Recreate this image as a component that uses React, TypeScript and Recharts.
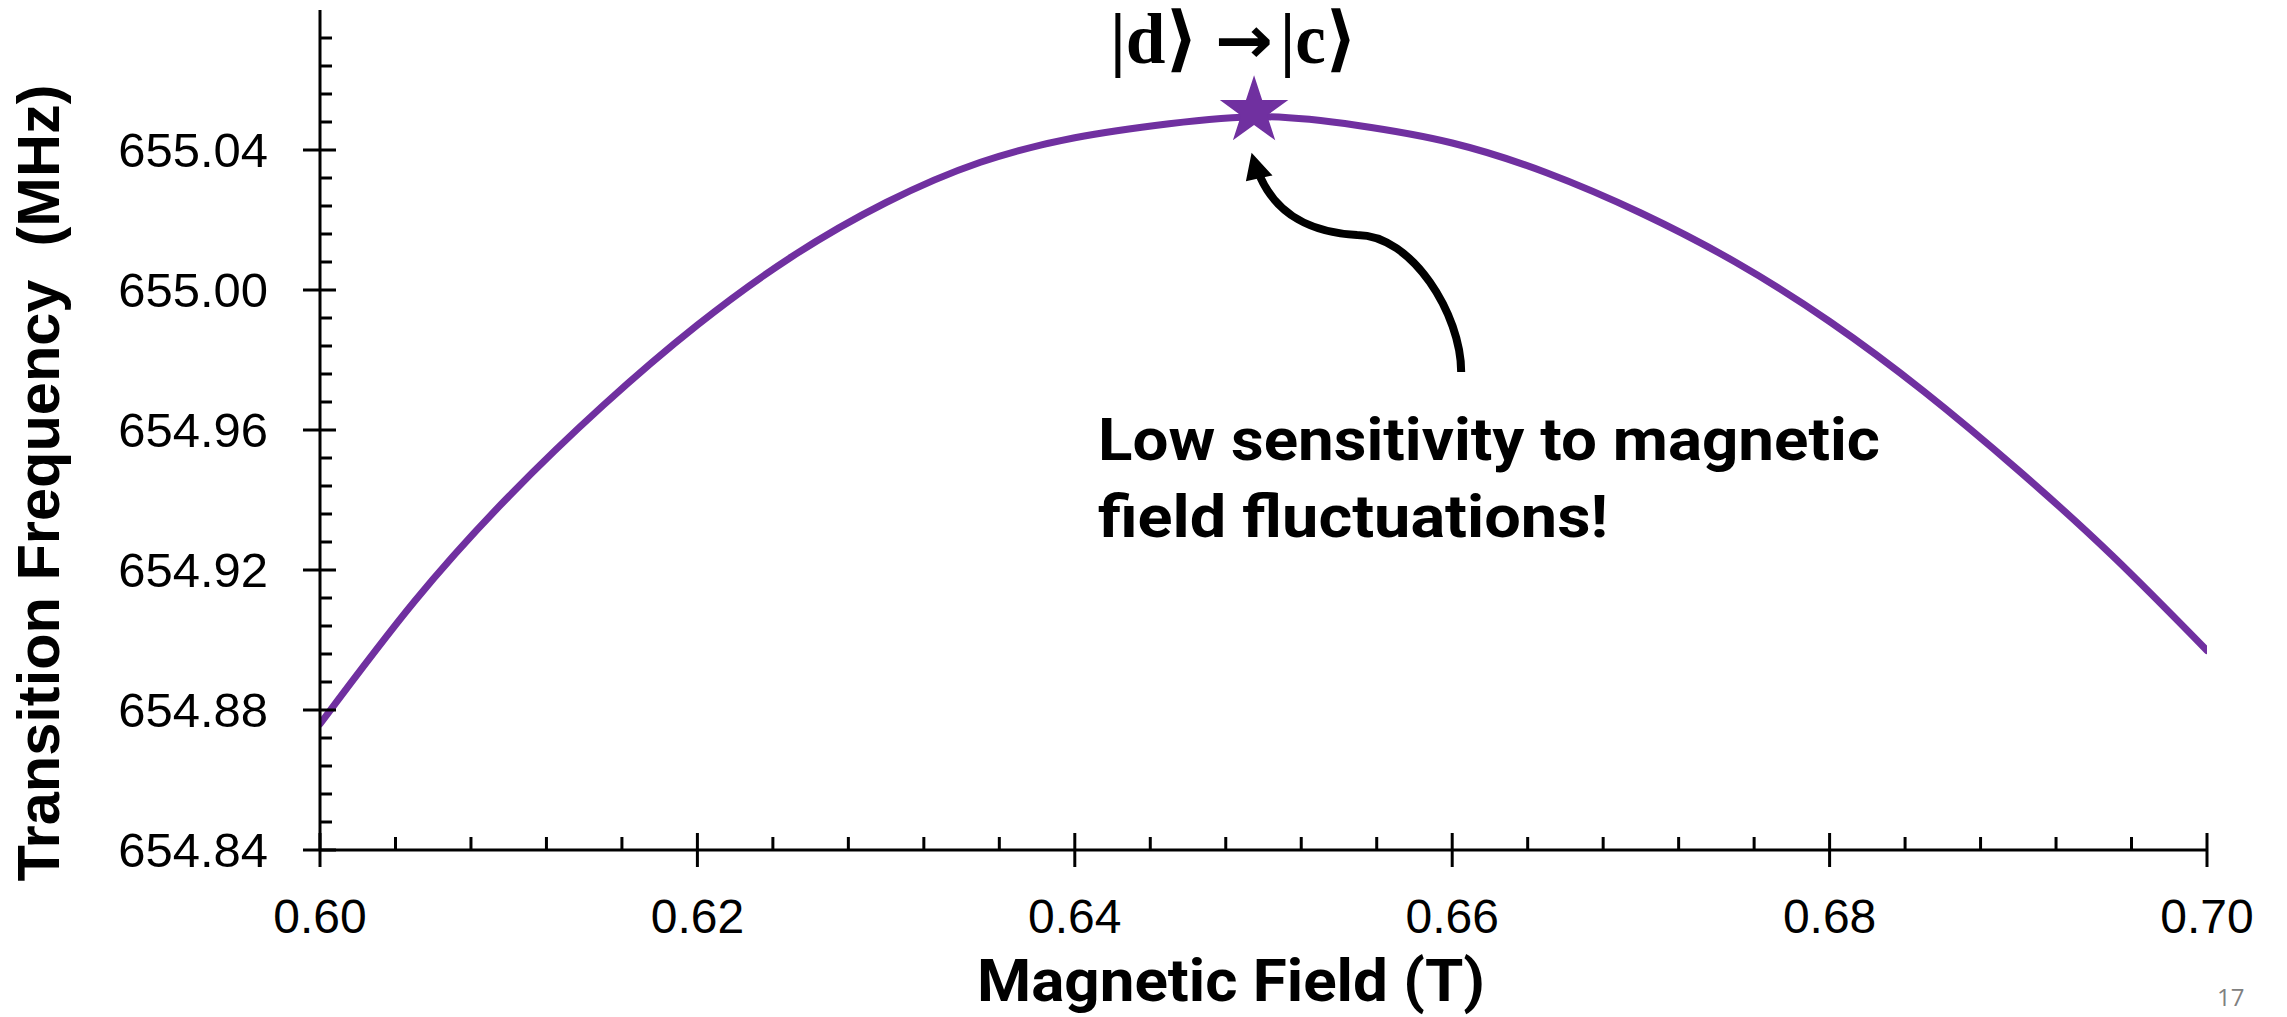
import { ComposedChart, Line, ReferenceDot, Scatter, XAxis, YAxis } from "recharts";

// Magnetic field (T) vs |d> -> |c> transition frequency (MHz)
const fieldT = [
  0.6, 0.605, 0.61, 0.615, 0.62, 0.625, 0.63, 0.635, 0.64, 0.645, 0.65,
  0.655, 0.66, 0.665, 0.67, 0.675, 0.68, 0.685, 0.69, 0.695, 0.7,
];
const freqMHz = [
  654.876, 654.911, 654.941, 654.967, 654.99, 655.0095, 655.025, 655.0365, 655.0435,
  655.0475, 655.0495, 655.047, 655.042, 655.0335, 655.022, 655.008, 654.991, 654.971,
  654.9485, 654.924, 654.897,
];
const sweetSpot = [{ b: 0.6495, f: 655.0511 }];
const arrowTip = { b: 0.6494, f: 655.0386 };

const xMajorTicks = [0.6, 0.62, 0.64, 0.66, 0.68, 0.7];
const yMajorTicks = [654.84, 654.88, 654.92, 654.96, 655.0, 655.04];
const xAllTicks = Array.from({ length: 26 }, (_, i) => +(0.6 + i * 0.004).toFixed(3));
const yAllTicks = Array.from({ length: 30 }, (_, i) => +(654.84 + i * 0.008).toFixed(3));

const data = fieldT.map((b, i) => ({ b, f: freqMHz[i] }));

const PURPLE = "#7030A0";
const SANS = "'Liberation Sans', Arial, sans-serif";
const NARROW = "Roboto, 'Liberation Sans', sans-serif";
const SERIF = "'Liberation Serif', 'DejaVu Serif', serif";

const isMajor = (list: number[], v: number) => list.some((t) => Math.abs(t - v) < 1e-6);

function YTick(props: any) {
  const { x, y, payload } = props;
  const major = isMajor(yMajorTicks, payload.value);
  return (
    <g>
      <line x1={major ? x - 17 : x} x2={x + (major ? 16 : 12)} y1={y} y2={y} stroke="#000" strokeWidth={3} />
      {major ? (
        <text x={x - 52} y={y} dy={17} textAnchor="end" fontFamily={SANS} fontSize={49} fill="#000">
          {payload.value.toFixed(2)}
        </text>
      ) : null}
    </g>
  );
}

function XTick(props: any) {
  const { x, y, payload } = props;
  const major = isMajor(xMajorTicks, payload.value);
  return (
    <g>
      <line x1={x} x2={x} y1={y - (major ? 17 : 13)} y2={y + (major ? 17 : 0)} stroke="#000" strokeWidth={3} />
      {major ? (
        <text x={x} y={y + 83} textAnchor="middle" fontFamily={SANS} fontSize={48} fill="#000">
          {payload.value.toFixed(2)}
        </text>
      ) : null}
    </g>
  );
}

function Star(props: any) {
  const { cx, cy } = props;
  const outer = 36;
  const inner = 13.8;
  const pts: string[] = [];
  for (let i = 0; i < 10; i++) {
    const a = -Math.PI / 2 + (i * Math.PI) / 5;
    const rad = i % 2 === 0 ? outer : inner;
    pts.push(`${cx + rad * Math.cos(a)},${cy + rad * Math.sin(a)}`);
  }
  return <polygon points={pts.join(" ")} fill={PURPLE} />;
}

// curved call-out arrow, drawn relative to its tip
function Arrow(props: any) {
  const { cx, cy } = props;
  return (
    <g transform={`translate(${cx},${cy})`}>
      <path
        d="M 209 217 C 209 160, 160 80, 105 80 C 60 78, 25 60, 8 22"
        fill="none"
        stroke="#000"
        strokeWidth={8}
      />
      <polygon points="0,0 -5,25 18.4,20" fill="#000" stroke="#000" strokeWidth={2} />
    </g>
  );
}

export default function App() {
  return (
    <div style={{ position: "absolute", left: 0, top: 0, width: 2287, height: 1017, background: "#fff" }}>
      <ComposedChart
        width={2287}
        height={1017}
        data={data}
        margin={{ top: 10, right: 80, bottom: 0, left: 0 }}
      >
        <XAxis
          type="number"
          dataKey="b"
          domain={[0.6, 0.7]}
          allowDataOverflow
          ticks={xAllTicks}
          interval={0}
          tickSize={0}
          tickMargin={0}
          tickLine={false}
          tick={<XTick />}
          axisLine={{ stroke: "#000", strokeWidth: 3 }}
          height={167}
        />
        <YAxis
          type="number"
          domain={[654.84, 655.08]}
          allowDataOverflow
          ticks={yAllTicks}
          interval={0}
          tickSize={0}
          tickMargin={0}
          tickLine={false}
          tick={<YTick />}
          axisLine={{ stroke: "#000", strokeWidth: 3 }}
          width={320}
        />
        <Line
          type="natural"
          dataKey="f"
          stroke={PURPLE}
          strokeWidth={7}
          strokeLinecap="round"
          dot={false}
          activeDot={false}
          isAnimationActive={false}
        />
        <Scatter data={sweetSpot} dataKey="f" shape={<Star />} isAnimationActive={false} />
        <ReferenceDot x={arrowTip.b} y={arrowTip.f} shape={<Arrow />} />
      </ComposedChart>
      <svg
        width={2287}
        height={1017}
        style={{ position: "absolute", left: 0, top: 0, pointerEvents: "none" }}
      >
        <text x={1110} y={63} fontFamily={SERIF} fontWeight="bold" fontSize={72} textLength={88} lengthAdjust="spacingAndGlyphs">
          |d⟩
        </text>
        <text x={1215} y={63} fontFamily="'DejaVu Sans', sans-serif" fontWeight="bold" fontSize={66} textLength={58} lengthAdjust="spacingAndGlyphs">
          →
        </text>
        <text x={1280} y={63} fontFamily={SERIF} fontWeight="bold" fontSize={72} textLength={77} lengthAdjust="spacingAndGlyphs">
          |c⟩
        </text>
        <text
          x={1098}
          y={460}
          fontFamily={NARROW}
          fontWeight="bold"
          fontSize={59}
          textLength={782}
          lengthAdjust="spacingAndGlyphs"
        >
          Low sensitivity to magnetic
        </text>
        <text
          x={1098}
          y={537}
          fontFamily={NARROW}
          fontWeight="bold"
          fontSize={59}
          textLength={510}
          lengthAdjust="spacingAndGlyphs"
        >
          field fluctuations!
        </text>
        <text
          x={977}
          y={1001}
          fontFamily={NARROW}
          fontWeight="bold"
          fontSize={60}
          textLength={508}
          lengthAdjust="spacingAndGlyphs"
        >
          Magnetic Field (T)
        </text>
        <text
          transform="translate(59,483) rotate(-90)"
          textAnchor="middle"
          fontFamily={SANS}
          fontWeight="bold"
          fontSize={60}
          textLength={797}
          lengthAdjust="spacingAndGlyphs"
          style={{ whiteSpace: "pre" }}
        >
          Transition Frequency  (MHz)
        </text>
        <text x={2217} y={1006} fontFamily="'Open Sans', sans-serif" fontSize={24} fill="#808080">
          17
        </text>
      </svg>
    </div>
  );
}
